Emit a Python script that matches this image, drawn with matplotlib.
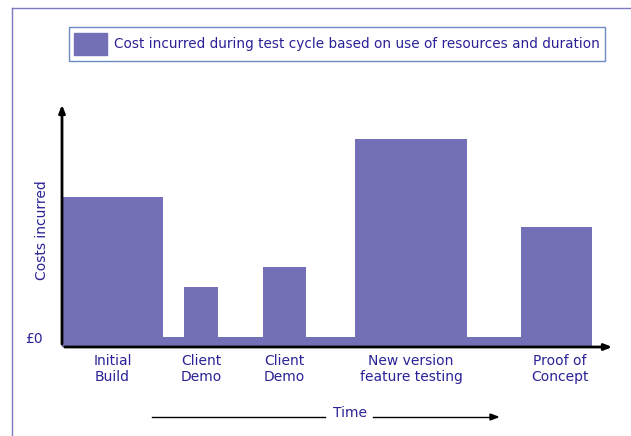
import numpy as np
import matplotlib.pyplot as plt
from matplotlib.patches import Patch

# segments along the time axis: start, width, cost (arbitrary units)
seg_start = [0, 101, 122, 156, 201, 244, 293, 405, 459]
seg_width = [101, 21, 34, 45, 43, 49, 112, 54, 71]
seg_cost = [150, 10, 60, 10, 80, 10, 208, 10, 120]

phase_labels = ["Initial\nBuild", "Client\nDemo", "Client\nDemo",
                "New version\nfeature testing", "Proof of\nConcept"]
phase_idx = [0, 2, 4, 6, 8]

bar_col = "#7470b8"
txt_col = "#2a2296"
legend_txt = "Cost incurred during test cycle based on use of resources and duration"

W, H = 631, 436
fig = plt.figure(figsize=(W / 100, H / 100), dpi=100)
ax = fig.add_axes([62 / W, (H - 347) / H, (615 - 62) / W, (347 - 102) / H])

ax.bar(seg_start, seg_cost, width=seg_width, align="edge", color=bar_col,
       linewidth=0, label=legend_txt)
ax.set_xlim(0, 553)
ax.set_ylim(0, 245)

for s in ax.spines.values():
    s.set_visible(False)
ax.set_yticks([])
centers = [seg_start[i] + seg_width[i] / 2 for i in phase_idx]
centers[-1] += 3
ax.set_xticks(centers)
ax.set_xticklabels(phase_labels, color=txt_col, fontsize=10, linespacing=1.15)
ax.tick_params(axis="x", length=0, pad=5)

# axis arrows
arr = dict(arrowstyle="-|>,head_length=0.45,head_width=0.18", color="black", lw=2)
ax.annotate("", xy=(0, 1), xytext=(0, 0), xycoords="axes fraction", arrowprops=arr)
ax.annotate("", xy=(1, 0), xytext=(0, 0), xycoords="axes fraction", arrowprops=arr)

fig.text(25 / W, 1 - 339 / H, "£0", color=txt_col, fontsize=10, va="center")
fig.text(42 / W, 1 - 230 / H, "Costs incurred", color=txt_col, fontsize=10,
         rotation=90, ha="center", va="center")

# time arrow under the chart
fig.text(350 / W, 1 - 413 / H, "Time", color=txt_col, fontsize=10, ha="center", va="center")
fig.add_artist(plt.Line2D([152 / W, 325 / W], [1 - 417 / H] * 2, color="black", lw=1))
fig.add_artist(plt.Line2D([373 / W, 490 / W], [1 - 417 / H] * 2, color="black", lw=1))
fig.patches.append(plt.Polygon([[490 / W, 1 - 414 / H], [498 / W, 1 - 417 / H],
                                [490 / W, 1 - 420 / H]], closed=True, color="black",
                               transform=fig.transFigure, figure=fig))

# page frame lines
fig.add_artist(plt.Line2D([12 / W, 12 / W], [0, 1 - 8 / H], color="#7c78c0", lw=1))
fig.add_artist(plt.Line2D([12 / W, 1], [1 - 8 / H] * 2, color="#7c78c0", lw=1))

leg = ax.legend(handles=[Patch(color=bar_col, label=legend_txt)],
                loc="center", bbox_to_anchor=(337 / W, 1 - 44 / H),
                bbox_transform=fig.transFigure, fontsize=9.8, frameon=True,
                fancybox=False, handlelength=2.45, handleheight=2.18,
                handletextpad=0.5, borderpad=0.4, borderaxespad=0)
leg.get_frame().set_edgecolor("#4a6db5")
leg.get_frame().set_linewidth(1)
for t in leg.get_texts():
    t.set_color(txt_col)

fig.savefig("out.png", dpi=100)
